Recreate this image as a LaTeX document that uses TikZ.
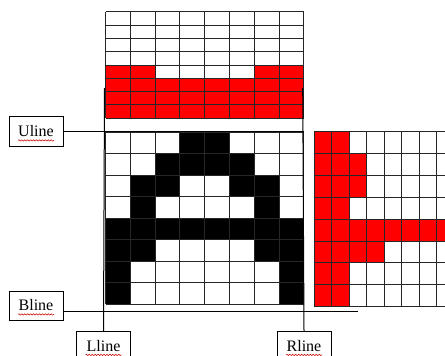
\documentclass[tikz,border=0pt]{standalone}
\usepackage{fontspec}
\setmainfont{Liberation Serif}
\usetikzlibrary{decorations.pathmorphing}

\begin{document}
\begin{tikzpicture}[x=0.75pt,y=-0.75pt,
  gridline/.style={black!85,line width=0.75pt},
  lbl/.style={draw,fill=white,line width=0.75pt,minimum width=40.5pt,minimum height=21.75pt,inner sep=0pt,font=\fontsize{12}{14}\selectfont},
  squig/.style={red!80!black,line width=0.4pt,decorate,decoration={snake,amplitude=0.5pt,segment length=2.2pt}}]
  \useasboundingbox (0,0) rectangle (445,356);
  \clip (0,0) rectangle (445,356);
  % top grid
  \begin{scope}[shift={(105.5,12)},x=18.6pt,y=-9.94pt]
    \foreach \c in {1,2,7,8} \fill[red] (\c-1,4) rectangle (\c,5);
    \fill[red] (0,5) rectangle (8,8);
    \foreach \i in {0,...,8} \draw[gridline] (\i,0)--(\i,8);
    \foreach \i in {0,...,8} \draw[gridline] (0,\i)--(8,\i);
  \end{scope}
  % letter A
  \begin{scope}[shift={(105.5,132)},x=18.6pt,y=-16.17pt]
    \foreach \r/\cols in {1/{4,5},2/{3,4,5,6},3/{2,3,6,7},4/{2,7},5/{1,2,3,4,5,6,7,8},6/{1,2,7,8},7/{1,8},8/{1,8}}
      \foreach \c in \cols \fill (\c-1,\r-1) rectangle (\c,\r);
    \foreach \i in {0,...,8} \draw[gridline] (\i,0)--(\i,8);
    \foreach \i in {0,...,8} \draw[gridline] (0,\i)--(8,\i);
  \end{scope}
  % right grid
  \begin{scope}[shift={(314.3,131.7)},x=13.09pt,y=-16.4pt]
    \foreach \r/\n in {1/2,2/3,3/3,4/2,5/9,6/4,7/2,8/2}
      \foreach \c in {1,...,\n} \fill[red] (\c-1,\r-1) rectangle (\c,\r);
    \foreach \i in {0,...,9} \draw[gridline] (\i,0)--(\i,8);
    \foreach \i in {0,...,8} \draw[gridline] (0,\i)--(9,\i);
  \end{scope}
  \coordinate (uend) at (304,131.5);
  \coordinate (bend) at (358,311.5);
  \coordinate (ltop) at (104.5,88);
  \coordinate (rtop) at (302.7,88);
  \node[lbl] (uline) at (36,131.5) {Uline};
  \node[lbl] (bline) at (36,305.5) {Bline};
  \node[lbl] (lline) at (103.5,346) {Lline};
  \node[lbl] (rline) at (304,346) {Rline};
  \draw[line width=0.75pt] (uline.east)--(uend);
  \draw[line width=0.75pt] (bline.east |- bend)--(bend);
  \draw[line width=0.75pt] (lline.north)--(ltop);
  \draw[line width=0.75pt] (rline.north)--(rtop);
  \foreach \n in {uline,bline,lline,rline}
    \draw[squig] ([xshift=-13.5pt,yshift=-2.6pt]\n.base)--([xshift=13.5pt,yshift=-2.6pt]\n.base);
\end{tikzpicture}
\end{document}
